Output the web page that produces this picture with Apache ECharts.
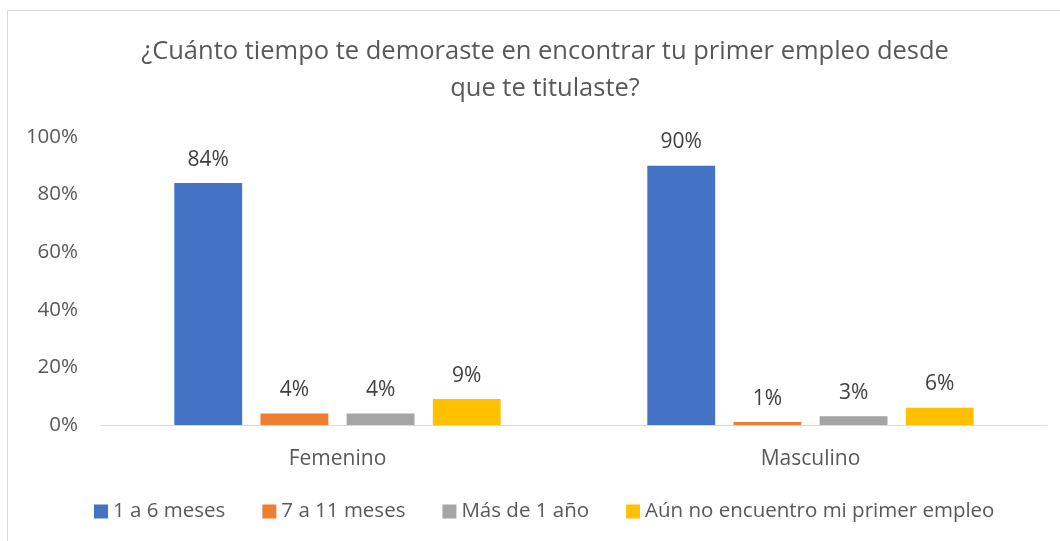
<!DOCTYPE html>
<html>
<head>
<meta charset="utf-8">
<script src="https://cdn.jsdelivr.net/npm/echarts@6/dist/echarts.min.js"></script>
<style>html,body{margin:0;padding:0;background:#fff;}#c{width:1060px;height:541px;}</style>
</head>
<body>
<div id="c"></div>
<script>
const categories = ['Femenino', 'Masculino'];
const seriesNames = ['1 a 6 meses', '7 a 11 meses', 'Más de 1 año', 'Aún no encuentro mi primer empleo'];
const s1 = [84, 90];
const s2 = [4, 1];
const s3 = [4, 3];
const s4 = [9, 6];
const yTicks = [0, 20, 40, 60, 80, 100];
const colors = ['#4472C4', '#ED7D31', '#A5A5A5', '#FFC000'];
const titleText = '¿Cuánto tiempo te demoraste en encontrar tu primer empleo desde\nque te titulaste?';

const FONT = 'Open Sans';
const chart = echarts.init(document.getElementById('c'), null, {renderer: 'canvas'});
const data = [s1, s2, s3, s4];
chart.setOption({
  animation: false,
  backgroundColor: '#ffffff',
  graphic: [{
    type: 'rect', shape: {x: 7.5, y: 10.5, width: 1200, height: 700},
    style: {fill: 'none', stroke: '#d9d9d9', lineWidth: 1}, silent: true, z: -1
  }],
  title: {
    text: titleText, left: 540, textAlign: 'center', top: 28,
    textStyle: {fontFamily: FONT, fontSize: 25.5, fontWeight: 'normal', color: '#595959', lineHeight: 37}
  },
  legend: {
    data: seriesNames, left: 89, top: 496, itemWidth: 14, itemHeight: 14, itemGap: 37,
    icon: 'rect',
    textStyle: {fontFamily: FONT, fontSize: 20.5, color: '#595959', padding: [0, 0, 0, 0]}
  },
  grid: {left: 101, right: 13, top: 137, bottom: 116, containLabel: false},
  xAxis: {
    type: 'category', data: categories,
    axisLine: {lineStyle: {color: '#d9d9d9', width: 1}},
    axisTick: {show: false},
    axisLabel: {fontFamily: FONT, fontSize: 21, color: '#595959', margin: 24}
  },
  yAxis: {
    type: 'value', min: 0, max: 100, interval: 20,
    axisLine: {show: false}, axisTick: {show: false}, splitLine: {show: false},
    axisLabel: {fontFamily: FONT, fontSize: 20.5, color: '#595959', margin: 23,
      formatter: v => yTicks.includes(v) ? v + '%' : ''}
  },
  series: seriesNames.map((n, i) => ({
    name: n, type: 'bar', data: data[i],
    barGap: '27%', barCategoryGap: '31%',
    itemStyle: {color: colors[i]},
    label: {show: true, position: 'top', distance: 13, formatter: p => p.value + '%',
      fontFamily: FONT, fontSize: 21, color: '#404040'}
  }))
});
</script>
</body>
</html>
